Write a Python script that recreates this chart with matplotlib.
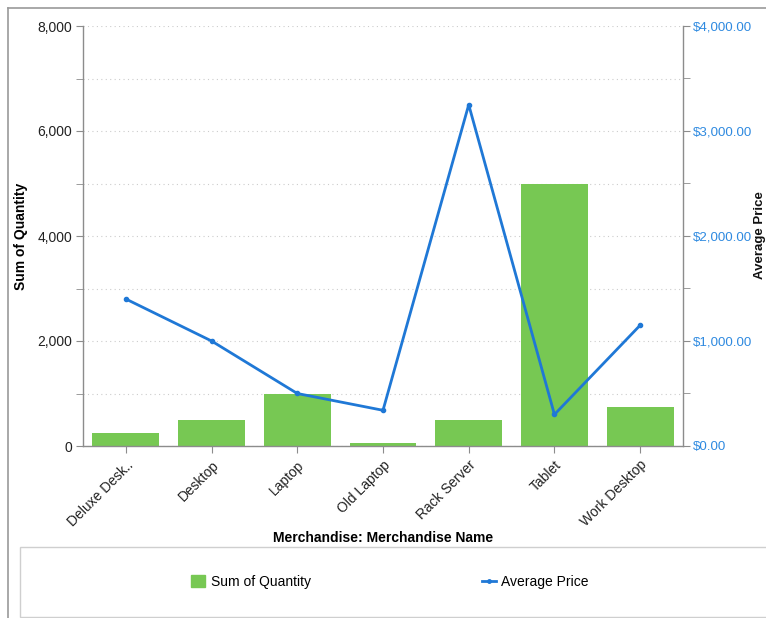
import matplotlib
matplotlib.use("Agg")
import matplotlib.pyplot as plt
from matplotlib.patches import Rectangle
from matplotlib.lines import Line2D
from matplotlib.ticker import FuncFormatter, MultipleLocator

categories = ["Deluxe Desk..", "Desktop", "Laptop", "Old Laptop", "Rack Server", "Tablet", "Work Desktop"]
quantity = [250, 500, 1000, 50, 500, 5000, 750]
avg_price = [1400, 1000, 500, 340, 3250, 300, 1150]

plt.rcParams['font.family'] = ['Liberation Sans', 'DejaVu Sans']

W, H = 766, 618
fig = plt.figure(figsize=(W/100, H/100), dpi=100)
ax = fig.add_axes([83/W, 1-446/H, 600/W, 420/H])
ax2 = ax.twinx()

gray = '#8c8c8c'
green = '#77c853'
blue = '#1f78d6'
blue_txt = '#2f8ae0'

x = list(range(len(categories)))
ax.bar(x, quantity, width=0.78, color=green, zorder=2)
ax.set_xlim(-0.5, len(categories) - 0.5)
ax.set_ylim(0, 8000)
ax.yaxis.set_major_locator(MultipleLocator(2000))
ax.yaxis.set_minor_locator(MultipleLocator(1000))
ax.yaxis.set_major_formatter(FuncFormatter(lambda v, p: f"{int(v):,}"))
ax.grid(axis='y', which='both', linestyle=(0, (1, 3)), color='#cccccc', linewidth=0.8, zorder=0)
ax.set_axisbelow(True)

ax2.plot(x, avg_price, color=blue, linewidth=2, marker='o', markersize=3, zorder=3)
ax2.set_ylim(0, 4000)
ax2.yaxis.set_major_locator(MultipleLocator(1000))
ax2.yaxis.set_minor_locator(MultipleLocator(500))
ax2.yaxis.set_major_formatter(FuncFormatter(lambda v, p: f"${v:,.2f}"))

for a in (ax, ax2):
    a.spines['top'].set_visible(False)
    for s in ('left', 'right', 'bottom'):
        a.spines[s].set_color(gray)
        a.spines[s].set_linewidth(1)
ax.spines['right'].set_visible(False)
ax2.spines['left'].set_visible(False)
ax2.spines['bottom'].set_visible(False)

ax.tick_params(axis='y', which='both', length=5, color=gray, labelsize=10, labelcolor='#222222', pad=3)
ax.tick_params(axis='x', length=5, color=gray, labelsize=10, labelcolor='#222222')
ax2.tick_params(axis='y', which='both', length=5, color=gray, labelsize=9.6, labelcolor=blue_txt, pad=2)

ax.set_xticks(x)
ax.set_xticklabels(categories, rotation=45, ha='right', rotation_mode='anchor')

ax.set_ylabel("Sum of Quantity", fontsize=10, fontweight='bold')
ax.yaxis.set_label_coords(-55/600, 0.5)
ax.set_xlabel("Merchandise: Merchandise Name", fontsize=10, fontweight='bold')
ax.xaxis.set_label_coords(0.5, -(531-446)/420)

fig.text(759.5/W, 1-235/H, "Average Price", rotation=90, ha='center', va='center',
         fontsize=9.5, fontweight='bold', color='#111111')

# outer frame
fig.add_artist(Line2D([8/W, 8/W], [0, 1-8/H], color='#9a9a9a', linewidth=1.2, transform=fig.transFigure))
fig.add_artist(Line2D([8/W, 1], [1-8/H, 1-8/H], color='#9a9a9a', linewidth=1.2, transform=fig.transFigure))

# legend box
fig.add_artist(Rectangle((20/W, 1-617/H), (770-20)/W, (617-547)/H, transform=fig.transFigure,
                         facecolor='white', edgecolor='#cfcfcf', linewidth=1))
handles = [Rectangle((0, 0), 1, 1, color=green),
           Line2D([0], [0], color=blue, linewidth=2, marker='o', markersize=2.5)]
leg = fig.legend(handles, ["Sum of Quantity", "Average Price"], loc='center',
                 bbox_to_anchor=(390/W, 1-582/H), ncol=2, frameon=False, fontsize=10,
                 columnspacing=12.3, handlelength=1.0, handletextpad=0.4, handleheight=0.9)

fig.savefig("out.png", dpi=100)
